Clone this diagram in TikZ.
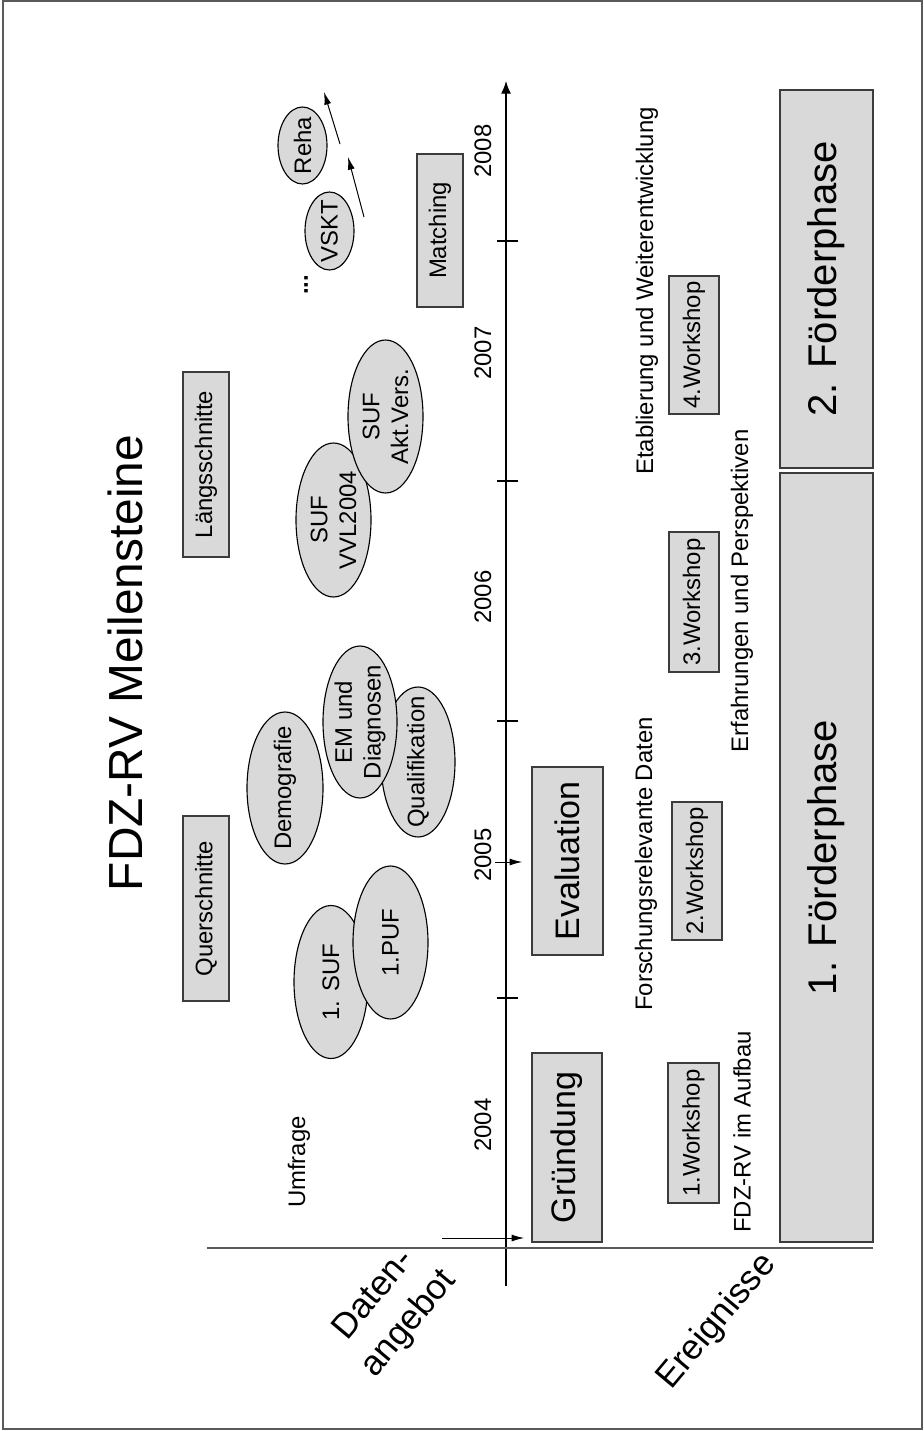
\documentclass[tikz,border=0pt]{standalone}
\usepackage{fontspec}
\setmainfont{Liberation Sans}
\usetikzlibrary{positioning,arrows.meta,shapes.geometric}
\definecolor{cFill}{HTML}{D9D9D9}
\definecolor{cEdge}{HTML}{3C3C3C}
\definecolor{cRule}{HTML}{5A5A5A}
\tikzset{
  sz/.style 2 args={minimum width=#1*0.025cm, minimum height=#2*0.025cm},
  txt/.style={rotate=90, inner sep=0pt, align=center,
              font=\fontsize{17}{20.5}\selectfont},
  box/.style={txt, draw=cEdge, line width=1.1pt, fill=cFill},
  bigbox/.style={box, font=\fontsize{24.2}{29}\selectfont},
  phase/.style={box, font=\fontsize{28.5}{34}\selectfont},
  oval/.style={txt, ellipse, draw=black, line width=0.8pt, fill=cFill,
               inner xsep=-20pt, inner ysep=-10pt},
  yr/.style={txt},
  side/.style={rotate=50, inner sep=0pt, align=center,
               font=\fontsize{25}{32.5}\selectfont},
  ar/.style={-{Latex[length=9pt, width=5pt]}, line width=0.7pt},
}
\begin{document}
\begin{tikzpicture}[x=0.025cm, y=-0.025cm]
  \useasboundingbox (0,0) rectangle (924,1431);
  \draw[cRule, line width=1.1pt] (3,1) rectangle (922,1429);
  % title
  \node[txt, font=\fontsize{34}{40}\selectfont] (title) at (125,663) {FDZ-RV Meilensteine};
  % time axis
  \coordinate (axb) at (506,1286);
  \coordinate (axt) at (506,81);
  \draw[-{Latex[length=9pt, width=7pt]}, line width=0.8pt] (axb) -- (axt);
  \foreach \y in {241,481,721,998}
    \draw[line width=0.8pt] (497,\y) -- (518,\y);
  \foreach \y/\t in {1125/2004, 855/2005, 597/2006, 353/2007, 151/2008}
    \node[yr] (y\t) at (483,\y) {\t};
  % separating rule and row labels
  \coordinate (hl) at (207,1248);
  \coordinate (hr) at (873,1248);
  \draw[cRule, line width=1.5pt] (hl) -- (hr);
  \node[side] (daten) at (392,1310) {Daten-\\angebot};
  \node[side] (ereig) at (717,1322) {Ereignisse};
  % data products
  \node[box, sz={185}{46}] (laengs) at (206,464.5) {Längsschnitte};
  \node[box, sz={185}{46}] (quer) at (206,908.5) {Querschnitte};
  \node[box, sz={153}{46}] (matching) at (440,230.5) {Matching};
  \node[txt] (umfrage) at (299,1162) {Umfrage};
  \node[oval, sz={153}{74}] (suf1) at (331,982) {1. SUF};
  \node[oval, sz={153}{75}] (puf1) at (390.5,942.5) {1.PUF};
  \node[oval, sz={152}{76}] (demo) at (285,788) {Demografie};
  \node[oval, sz={150}{74}] (quali) at (418,762) {Qualifikation};
  \node[oval, sz={152}{74}] (emdiag) at (360,722) {EM und\\Diagnosen};
  \node[oval, sz={154}{75}] (sufvvl) at (333.5,520) {SUF\\VVL2004};
  \node[oval, sz={153}{75}] (sufakt) at (385.5,416.5) {SUF\\Akt.Vers.};
  \node[txt, font=\fontsize{17}{20.5}\selectfont\bfseries] (dots) at (306,285) {...};
  \node[oval, sz={78}{49}] (vskt) at (329.5,231) {VSKT};
  \node[oval, sz={77}{49}] (reha) at (302.5,145.5) {Reha};
  \coordinate (t1) at (340,144);
  \coordinate (h1) at (324,92);
  \coordinate (t2) at (364,217);
  \coordinate (h2) at (348,157);
  \draw[ar] (t1) -- (h1);
  \draw[ar] (t2) -- (h2);
  % events
  \node[bigbox, sz={189}{70}] (gruendung) at (567,1147.5) {Gründung};
  \node[bigbox, sz={188}{71}] (evaluation) at (567.5,861) {Evaluation};
  \coordinate (a2004) at (442,1238);
  \coordinate (a2005) at (495,862);
  \draw[ar, shorten >=5pt] (a2004) -- (a2004 -| gruendung.north);
  \draw[ar, shorten >=6.4pt] (a2005) -- (a2005 -| evaluation.north);
  \node[txt] (forsch) at (646,864) {Forschungsrelevante Daten};
  \node[txt] (etab) at (647,291) {Etablierung und Weiterentwicklung};
  \node[box, sz={140}{51}] (ws1) at (693.5,1133) {1.Workshop};
  \node[box, sz={138}{50}] (ws2) at (697,871) {2.Workshop};
  \node[box, sz={140}{50}] (ws3) at (694,602) {3.Workshop};
  \node[box, sz={138}{50}] (ws4) at (694,345) {4.Workshop};
  \node[txt] (aufbau) at (742,1132) {FDZ-RV im Aufbau};
  \node[txt] (erfahr) at (742,591) {Erfahrungen und Perspektiven};
  % funding phases
  \node[phase, sz={769}{93}] (fp1) at (826.5,857.5) {1. Förderphase};
  \node[phase, sz={378}{93}] (fp2) at (826.5,279) {2. Förderphase};
\end{tikzpicture}
\end{document}
